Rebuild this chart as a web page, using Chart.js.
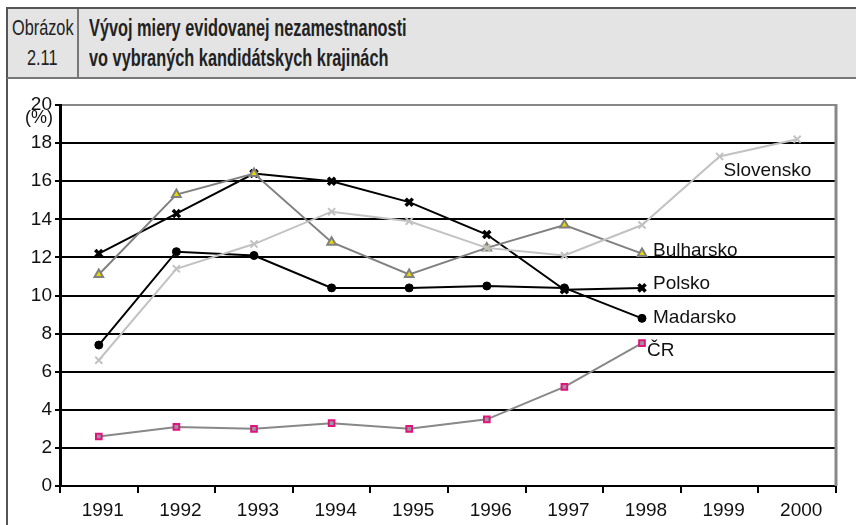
<!DOCTYPE html>
<html>
<head>
<meta charset="utf-8">
<script src="https://cdn.jsdelivr.net/npm/chart.js@4/dist/chart.umd.min.js"></script>
<style>
  html, body { margin: 0; padding: 0; background: #fff; }
  #wrap { position: relative; width: 856px; height: 525px; overflow: hidden; }
  #frame { position: absolute; left: 6px; top: 7px; width: 860px; height: 530px; border-left: 2px solid #555; }
  #head { position: absolute; left: 6px; top: 7px; width: 860px; height: 68px; background: #e4e4e4;
          border-top: 2px solid #555; border-bottom: 2px solid #777; border-left: 2px solid #555; z-index: 2; }
  #num { position: absolute; left: 0; top: 0; width: 69px; height: 68px; border-right: 2px solid #777; }
  .ln { position: absolute; white-space: nowrap; color: #222; transform-origin: 0 0; }
  .n { font: 22px "Liberation Sans", Arial, sans-serif; transform: scaleX(0.74); }
  .t { font: bold 23px "Liberation Sans", Arial, sans-serif; transform: scaleX(0.71); }
  #c { position: absolute; left: 0; top: 0; z-index: 1; }
</style>
</head>
<body>
<div id="wrap">
  <div id="frame"></div>
  <div id="head">
    <div id="num"></div>
    <div class="ln n" style="left:4px; top:6px">Obrázok</div>
    <div class="ln n" style="left:19px; top:36px">2.11</div>
    <div class="ln t" style="left:81px; top:6px">Vývoj miery evidovanej nezamestnanosti</div>
    <div class="ln t" style="left:81px; top:36px">vo vybraných kandidátskych krajinách</div>
  </div>
  <canvas id="c" width="856" height="525"></canvas>
</div>
<script>
const years = ['1991','1992','1993','1994','1995','1996','1997','1998','1999','2000'];
const slovensko = [6.6, 11.4, 12.7, 14.4, 13.9, 12.5, 12.1, 13.7, 17.3, 18.2];
const bulharsko = [11.1, 15.3, 16.4, 12.8, 11.1, 12.5, 13.7, 12.2, null, null];
const polsko    = [12.2, 14.3, 16.4, 16.0, 14.9, 13.2, 10.3, 10.4, null, null];
const madarsko  = [7.4, 12.3, 12.1, 10.4, 10.4, 10.5, 10.4, 8.8, null, null];
const cr        = [2.6, 3.1, 3.0, 3.3, 3.0, 3.5, 5.2, 7.5, null, null];
const yTicks = [0, 2, 4, 6, 8, 10, 12, 14, 16, 18, 20];

const FONT = '"Liberation Sans", Arial, sans-serif';

// names written next to the lines
const seriesLabels = {
  id: 'seriesLabels',
  afterDatasetsDraw(chart){
    const ctx = chart.ctx;
    ctx.save();
    ctx.font = '19px ' + FONT;
    ctx.fillStyle = '#111';
    ctx.textBaseline = 'middle';
    chart.data.datasets.forEach((ds, i)=>{
      const pt = chart.getDatasetMeta(i).data[ds.tagAt];
      ctx.fillText(ds.label, pt.x + ds.tagDx, pt.y + ds.tagDy);
    });
    // unit under the top tick + right border of the plot
    const y = chart.scales.y, a = chart.chartArea;
    ctx.textAlign = 'right';
    ctx.font = '18px ' + FONT;
    ctx.fillText('(%)', y.right - 7, y.getPixelForValue(20) + 13);
    ctx.strokeStyle = '#888';
    ctx.lineWidth = 3;
    ctx.beginPath(); ctx.moveTo(a.right, a.top - 1); ctx.lineTo(a.right, a.bottom); ctx.stroke();
    ctx.restore();
  }
};

new Chart(document.getElementById('c'), {
  type: 'line',
  data: {
    labels: years,
    datasets: [
      { label: 'Slovensko', data: slovensko, borderColor: '#c2c2c2', borderWidth: 2,
        pointStyle: 'crossRot', pointRadius: 5, pointBorderWidth: 2, pointBorderColor: '#c2c2c2',
        tagAt: 8, tagDx: 4, tagDy: 14 },
      { label: 'Bulharsko', data: bulharsko, borderColor: '#808080', borderWidth: 2,
        pointStyle: 'triangle', pointRadius: 5, pointBorderWidth: 2, pointBorderColor: '#808080', pointBackgroundColor: '#e8d800',
        tagAt: 7, tagDx: 11, tagDy: -3 },
      { label: 'Polsko', data: polsko, borderColor: '#000', borderWidth: 2,
        pointStyle: 'crossRot', pointRadius: 5, pointBorderWidth: 3.5, pointBorderColor: '#000',
        tagAt: 7, tagDx: 11, tagDy: -4 },
      { label: 'Madarsko', data: madarsko, borderColor: '#000', borderWidth: 2,
        pointStyle: 'circle', pointRadius: 4, pointBorderWidth: 1, pointBorderColor: '#000', pointBackgroundColor: '#000',
        tagAt: 7, tagDx: 11, tagDy: -1 },
      { label: 'ČR', data: cr, borderColor: '#888', borderWidth: 2,
        pointStyle: 'rect', pointRadius: 4, pointBorderWidth: 2, pointBorderColor: '#e0147f', pointBackgroundColor: '#999',
        tagAt: 7, tagDx: 5, tagDy: 8 }
    ]
  },
  options: {
    responsive: false,
    animation: false,
    spanGaps: false,
    layout: { padding: { top: 105, right: 20, left: 0, bottom: 0 } },
    plugins: { legend: { display: false }, tooltip: { enabled: false } },
    scales: {
      x: {
        offset: true,
        grid: { drawOnChartArea: false, offset: true, color: '#000', lineWidth: 2, tickLength: 7 },
        border: { color: '#000', width: 2 },
        ticks: { color: '#111', font: { family: FONT, size: 19 }, padding: 6, maxRotation: 0, labelOffset: 4 },
        afterFit(s){ s.height = 39; }
      },
      y: {
        min: 0, max: 20,
        afterBuildTicks(s){ s.ticks = yTicks.map(v=>({value: v})); },
        grid: { color: c => c.tick && c.tick.value === 20 ? '#888' : '#000', lineWidth: 2, tickLength: 5, tickColor: '#000' },
        border: { color: '#000', width: 3 },
        ticks: { color: '#111', font: { family: FONT, size: 19 }, padding: 3 },
        afterFit(s){ s.width = 60; }
      }
    }
  },
  plugins: [seriesLabels]
});
</script>
</body>
</html>
